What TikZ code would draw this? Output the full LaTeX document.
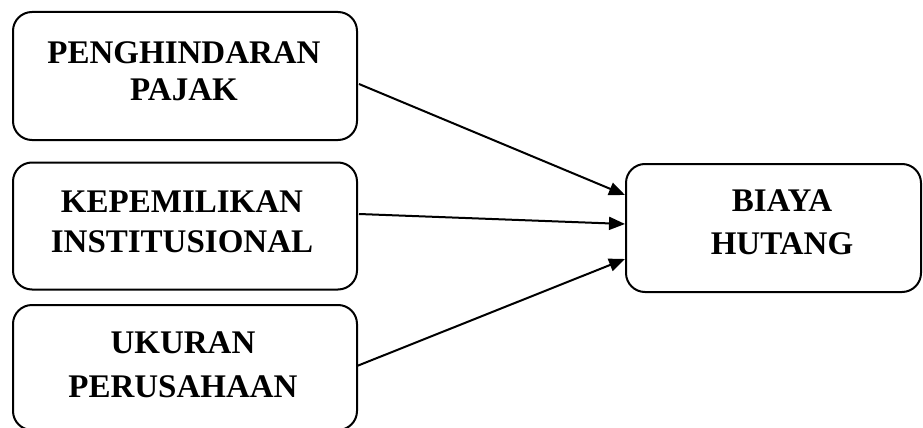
\documentclass[tikz,border=0pt]{standalone}
\usepackage{fontspec}
\setmainfont{Liberation Serif}
\usetikzlibrary{arrows.meta}
\begin{document}
\begin{tikzpicture}[x=1pt,y=-1pt,
  box/.style={draw, line width=2pt, rounded corners=19pt, inner sep=0pt},
  txt/.style={align=center, inner sep=0pt, font=\fontsize{33}{#1}\selectfont\bfseries},
  conn/.style={line width=2pt, -{Triangle[length=16pt,width=13pt]}}]
\useasboundingbox (0,0) rectangle (923,428);
\node[box, minimum width=344pt, minimum height=128pt] (pp) at (185,76) {};
\node[box, minimum width=344pt, minimum height=127pt] (ki) at (185,226) {};
\node[box, minimum width=344pt, minimum height=125pt] (up) at (185,367.5) {};
\node[box, minimum width=295pt, minimum height=128pt] (bh) at (773.5,228) {};
\node[txt=37] (ppt) at (184,71) {PENGHINDARAN\\PAJAK};
\node[txt=40] (kit) at (182,221.7) {KEPEMILIKAN\\INSTITUSIONAL};
\node[txt=44] (upt) at (183,364.5) {UKURAN\\PERUSAHAAN};
\node[txt=43] (bht) at (782,222) {BIAYA\\HUTANG};
\coordinate (s1) at (359,84);
\coordinate (s2) at (359,214);
\coordinate (s3) at (357,366);
\draw[conn] (s1) -- (bh.west |- 0,195);
\draw[conn] (s2) -- (bh.west |- 0,224);
\draw[conn] (s3) -- (bh.west |- 0,259);
\end{tikzpicture}
\end{document}
